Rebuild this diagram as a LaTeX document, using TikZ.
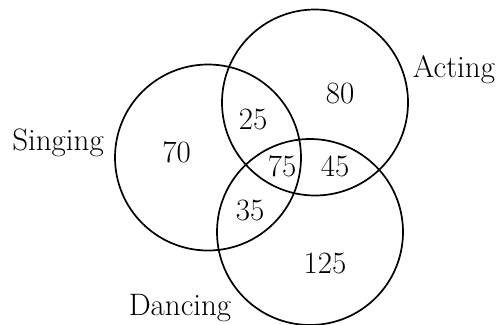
\documentclass[tikz,border=0pt]{standalone}
\begin{document}
\begin{tikzpicture}[x=1pt,y=-1pt,
  setcircle/.style={circle,draw=black,line width=1.7pt,minimum size=186pt,inner sep=0pt},
  lbl/.style={font=\fontsize{31}{35}\selectfont,anchor=base,inner sep=0pt}]
\useasboundingbox (0,0) rectangle (497,324);
\node[setcircle] (S) at (208,157.5) {};
\node[setcircle] (A) at (315,102.5) {};
\node[setcircle] (D) at (310,232) {};
\node[lbl] (ls) at (58,150) {Singing};
\node[lbl] (la) at (454,77) {Acting};
\node[lbl] (ld) at (180,315) {Dancing};
\node[lbl] (n70) at (176.5,162) {70};
\node[lbl] (n80) at (340,103) {80};
\node[lbl] (n25) at (253,129) {25};
\node[lbl] (n75) at (282,176) {75};
\node[lbl] (n45) at (335,176) {45};
\node[lbl] (n35) at (250,220) {35};
\node[lbl] (n125) at (325,273) {125};
\end{tikzpicture}
\end{document}
